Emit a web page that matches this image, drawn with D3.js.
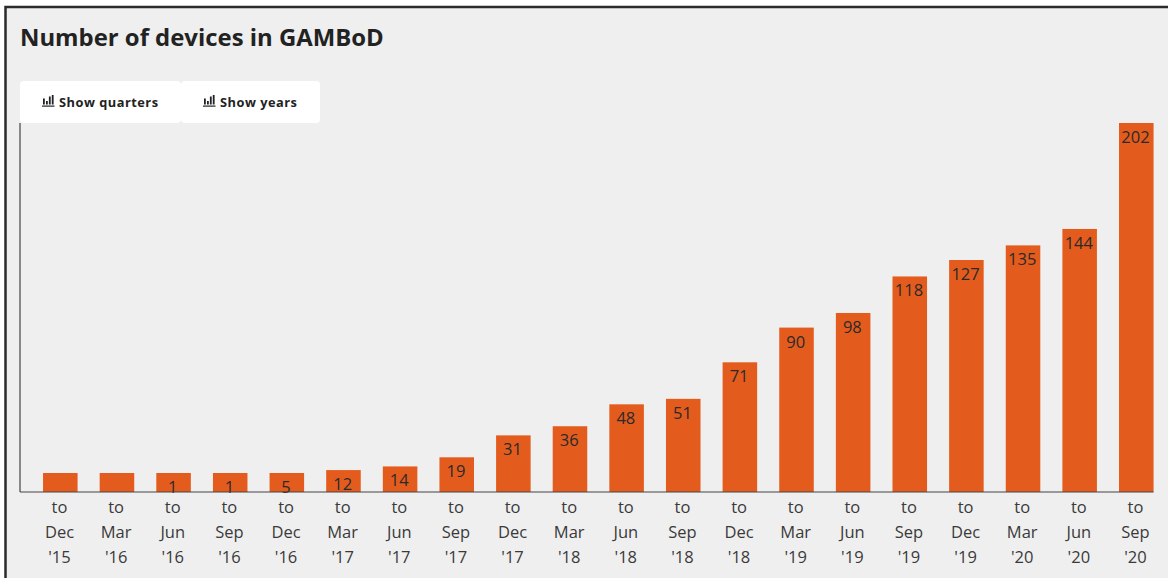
<!DOCTYPE html>
<html>
<head>
<meta charset="utf-8">
<script src="https://d3js.org/d3.v7.min.js"></script>
<style>
  html, body { margin: 0; padding: 0; background: #fff; }
  svg { display: block; font-family: "Open Sans", "Noto Sans", sans-serif; }
</style>
</head>
<body>
<script>
// chart data
const periods = ["Dec '15", "Mar '16", "Jun '16", "Sep '16", "Dec '16", "Mar '17", "Jun '17", "Sep '17", "Dec '17", "Mar '18",
  "Jun '18", "Sep '18", "Dec '18", "Mar '19", "Jun '19", "Sep '19", "Dec '19", "Mar '20", "Jun '20", "Sep '20"]
const devices = [0, 0, 1, 1, 5, 12, 14, 19, 31, 36, 48, 51, 71, 90, 98, 118, 127, 135, 144, 202]
const buttonLabels = ["Show quarters", "Show years"]

const width = 1168
const height = 578
const margin = { top: 123, bottom: 86, left: 20 }
const minBar = 19 // small values still get a visible bar

const rows = periods.map((p, i) => ({ period: p, value: devices[i] }))

const svg = d3.select("body").append("svg")
  .attr("width", width)
  .attr("height", height)

// panel + dark frame on top and left
svg.append("rect").attr("x", 6).attr("y", 7).attr("width", width - 6).attr("height", height - 7).attr("fill", "#efefef")
svg.append("path")
  .attr("d", `M${width},7 H5.5 V${height}`)
  .attr("fill", "none")
  .attr("stroke", "#2b2b2b")
  .attr("stroke-width", 2.5)

svg.append("text")
  .attr("x", 20)
  .attr("y", 46)
  .attr("font-size", 23.9)
  .attr("font-weight", 700)
  .attr("fill", "#222")
  .text("Number of devices in GAMBoD")

const x = d3.scaleBand()
  .domain(periods)
  .range([32, 1164.6])
  .paddingInner(0.39)
  .paddingOuter(0.195)

const y = d3.scaleLinear()
  .domain([0, 202])
  .range([height - margin.bottom, margin.top])

const barTop = v => Math.min(y(v), y(0) - minBar)

svg.selectAll(".bar")
  .data(rows)
  .enter()
  .append("rect")
  .attr("class", "bar")
  .attr("x", d => x(d.period))
  .attr("y", d => barTop(d.value))
  .attr("width", x.bandwidth())
  .attr("height", d => y(0) - barTop(d.value))
  .attr("fill", "#e45c1d")

// zero values have no label
svg.selectAll(".val")
  .data(rows.filter(d => d.value > 0))
  .enter()
  .append("text")
  .attr("class", "val")
  .attr("x", d => x(d.period) + x.bandwidth() / 2 - 0.8)
  .attr("y", d => barTop(d.value) + 20)
  .attr("text-anchor", "middle")
  .attr("font-size", 16.5)
  .attr("fill", "#2a2a2a")
  .text(d => d.value)

// axes
svg.append("line").attr("x1", margin.left).attr("x2", x(periods[19]) + x.bandwidth()).attr("y1", y(0)).attr("y2", y(0))
  .attr("stroke", "#444").attr("stroke-width", 1.2)
svg.append("line").attr("x1", margin.left).attr("x2", margin.left).attr("y1", y(202)).attr("y2", y(0))
  .attr("stroke", "#444").attr("stroke-width", 1.2)

const labels = svg.selectAll(".tick-label")
  .data(periods)
  .enter()
  .append("text")
  .attr("class", "tick-label")
  .attr("text-anchor", "middle")
  .attr("font-size", 16.5)
  .attr("fill", "#3a3a3a")

labels.each(function (d) {
  const cx = x(d) + x.bandwidth() / 2 - 0.8
  const parts = ["to"].concat(d.split(" "))
  d3.select(this).selectAll("tspan")
    .data(parts)
    .enter()
    .append("tspan")
    .attr("x", cx)
    .attr("y", (p, i) => 513 + i * 25.2)
    .text(p => p)
})

// buttons
const buttons = [{ x: 20, w: 161 }, { x: 181, w: 139 }]
buttons.forEach((b, i) => {
  const g = svg.append("g").attr("transform", `translate(${b.x},81)`)
  g.append("rect").attr("width", b.w).attr("height", 42).attr("rx", 4).attr("fill", "#fff")
  // little bar chart icon
  const ic = g.append("g").attr("transform", "translate(22,13.5)").attr("fill", "#222")
  ic.append("rect").attr("x", 0).attr("y", 11).attr("width", 12.5).attr("height", 1.2)
  ic.append("rect").attr("x", 1).attr("y", 4).attr("width", 1.8).attr("height", 6)
  ic.append("rect").attr("x", 4).attr("y", 6.5).attr("width", 1.8).attr("height", 3.5)
  ic.append("rect").attr("x", 6.9).attr("y", 2).attr("width", 1.8).attr("height", 8)
  ic.append("rect").attr("x", 9.8).attr("y", 0.5).attr("width", 1.8).attr("height", 9.5)
  g.append("text")
    .attr("x", 39)
    .attr("y", 26)
    .attr("font-size", 12.8)
    .attr("font-weight", 700)
    .attr("letter-spacing", 0.5)
    .attr("fill", "#222")
    .text(buttonLabels[i])
})
</script>
</body>
</html>
